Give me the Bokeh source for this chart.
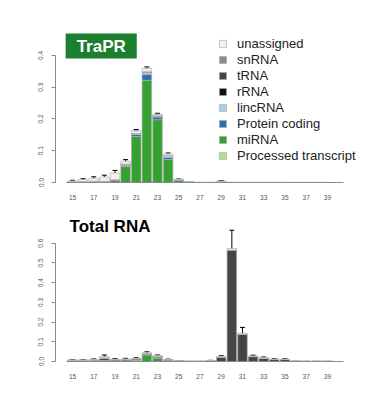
from bokeh.plotting import figure
from bokeh.layouts import column
from bokeh.models import (Range1d, FixedTicker, Legend, LegendItem, Label, Whisker,
                          ColumnDataSource, NumeralTickFormatter, TeeHead)
from bokeh.embed import file_html
from bokeh.resources import INLINE

lengths = list(range(15, 40))
x_ticks = list(range(15, 40, 2))
series = ["Processed transcript", "miRNA", "Protein coding", "lincRNA",
          "rRNA", "tRNA", "snRNA", "unassigned"]
colors = ["#b5df8e", "#36a030", "#2b6fae", "#a9cfe6",
          "#111111", "#454545", "#8a8a8a", "#f2f2f2"]

# ---- TraPR panel (lengths 15..39) ----
trapr_processed = [0]*25
trapr_mirna     = [0, 0, 0, 0, 0.002, 0.050, 0.145, 0.322, 0.198, 0.073, 0.008, 0.001, 0, 0, 0, 0, 0, 0, 0, 0, 0, 0, 0, 0, 0]
trapr_protein   = [0, 0, 0, 0, 0, 0.003, 0.006, 0.018, 0.008, 0.006, 0, 0, 0, 0, 0, 0, 0, 0, 0, 0, 0, 0, 0, 0, 0]
trapr_linc      = [0, 0, 0, 0, 0, 0.002, 0.003, 0.006, 0.003, 0.006, 0, 0, 0, 0, 0, 0, 0, 0, 0, 0, 0, 0, 0, 0, 0]
trapr_rrna      = [0.001, 0.001, 0.002, 0.002, 0.004, 0.002, 0.001, 0.002, 0.001, 0, 0, 0, 0, 0, 0, 0, 0, 0, 0, 0, 0, 0, 0, 0, 0]
trapr_trna      = [0.001, 0.002, 0.002, 0.002, 0.003, 0.001, 0, 0.001, 0, 0, 0.001, 0, 0, 0, 0.001, 0, 0, 0, 0, 0, 0, 0, 0, 0, 0]
trapr_snrna     = [0, 0, 0, 0, 0, 0, 0, 0, 0, 0, 0, 0, 0, 0, 0.001, 0, 0, 0, 0, 0, 0, 0, 0, 0, 0]
trapr_unassigned = [0.003, 0.006, 0.009, 0.013, 0.021, 0.009, 0.008, 0.011, 0.005, 0.005, 0.001, 0.001, 0.001, 0.001, 0.003,
                    0.0008, 0.0008, 0.0008, 0.0008, 0.0008, 0.0008, 0.0005, 0.0005, 0.0005, 0.0005]
trapr_err_total = [0.002, 0.003, 0.005, 0.006, 0.008, 0.005, 0.004, 0.004, 0.003, 0.003, 0.001, 0, 0, 0, 0.001,
                   0, 0, 0, 0, 0, 0, 0, 0, 0, 0]
trapr_err_mirna = [0, 0, 0, 0, 0, 0.006, 0.017, 0.035, 0.015, 0.006, 0, 0, 0, 0, 0, 0, 0, 0, 0, 0, 0, 0, 0, 0, 0]

# ---- Total RNA panel ----
total_processed = [0]*25
total_mirna     = [0, 0, 0, 0, 0, 0.001, 0.006, 0.034, 0.018, 0.003, 0.001, 0, 0, 0, 0, 0, 0, 0, 0, 0, 0, 0, 0, 0, 0]
total_protein   = [0, 0, 0, 0, 0, 0, 0, 0.001, 0.001, 0, 0, 0, 0, 0, 0, 0, 0, 0, 0, 0, 0, 0, 0, 0, 0]
total_linc      = [0]*25
total_rrna      = [0.002, 0.002, 0.002, 0.005, 0.003, 0.003, 0.002, 0.002, 0.003, 0.001, 0, 0, 0, 0, 0, 0, 0, 0, 0, 0, 0, 0, 0, 0, 0]
total_trna      = [0.004, 0.004, 0.005, 0.010, 0.006, 0.006, 0.006, 0.004, 0.005, 0.005, 0.002, 0.001, 0.001, 0.004, 0.022,
                   0.565, 0.138, 0.025, 0.017, 0.010, 0.010, 0.002, 0.001, 0.001, 0.001]
total_snrna     = [0, 0, 0, 0.004, 0, 0, 0, 0, 0, 0, 0, 0, 0, 0, 0, 0, 0, 0, 0, 0, 0, 0, 0, 0, 0]
total_unassigned = [0.002, 0.002, 0.003, 0.006, 0.003, 0.003, 0.002, 0.003, 0.002, 0.001, 0, 0.001, 0.001, 0.001, 0.003,
                    0.008, 0.005, 0.003, 0.003, 0.002, 0.002, 0.001, 0.001, 0.001, 0.001]
total_err = [0.002, 0.002, 0.003, 0.008, 0.003, 0.003, 0.003, 0.005, 0.004, 0.002, 0.001, 0, 0, 0.001, 0.004,
             0.093, 0.03, 0.004, 0.003, 0.002, 0.002, 0, 0, 0, 0]

FONT = "Liberation Sans"


def make_panel(values, height, border_top, border_bottom, y_end, y_ticks_list):
    data = {"x": lengths}
    for name, vals in zip(series, values):
        data[name] = vals
    src = ColumnDataSource(data)
    p = figure(width=384, height=height, output_backend="svg", toolbar_location=None,
               x_range=Range1d(13.4, 43.05), y_range=Range1d(0, y_end),
               min_border_left=55, min_border_right=14,
               min_border_top=border_top, min_border_bottom=border_bottom)
    p.outline_line_color = None
    p.xgrid.visible = False
    p.ygrid.visible = False
    p.background_fill_color = "white"
    rs = p.vbar_stack(series, x="x", width=0.9, color=colors, source=src,
                      line_color="#b0b0b0", line_width=0.7)
    # axes
    p.xaxis.ticker = FixedTicker(ticks=x_ticks)
    p.xaxis.bounds = (14.45, 40.5)
    p.xaxis.axis_line_color = "#8a8a8a"
    p.xaxis.major_tick_line_color = None
    p.xaxis.minor_tick_line_color = None
    p.xaxis.major_label_standoff = 6
    p.xaxis.major_label_text_font_size = "6.5px"
    p.xaxis.major_label_text_color = "#555555"
    p.xaxis.major_label_text_font = FONT
    p.yaxis.ticker = FixedTicker(ticks=y_ticks_list)
    p.yaxis.bounds = (y_ticks_list[0], y_ticks_list[-1])
    p.yaxis.formatter = NumeralTickFormatter(format="0.0")
    p.yaxis.axis_line_color = "#8a8a8a"
    p.yaxis.major_tick_line_color = "#8a8a8a"
    p.yaxis.major_tick_out = 4
    p.yaxis.major_tick_in = 0
    p.yaxis.minor_tick_line_color = None
    p.yaxis.major_label_orientation = "vertical"
    p.yaxis.major_label_standoff = 8
    p.yaxis.major_label_text_font_size = "6.5px"
    p.yaxis.major_label_text_color = "#555555"
    p.yaxis.major_label_text_font = FONT
    return p, rs


def add_whisker(p, centers, errs):
    xs, lo, hi = [], [], []
    for x, c, e in zip(lengths, centers, errs):
        if e > 0:
            xs.append(x)
            lo.append(c - e)
            hi.append(c + e)
    s = ColumnDataSource(dict(x=xs, lower=lo, upper=hi))
    w = Whisker(source=s, base="x", lower="lower", upper="upper",
                line_color="black", line_width=1,
                upper_head=TeeHead(size=5, line_color="black", line_width=1),
                lower_head=TeeHead(size=5, line_color="black", line_width=1))
    p.add_layout(w)


# ---- top figure ----
trapr_values = [trapr_processed, trapr_mirna, trapr_protein, trapr_linc,
                trapr_rrna, trapr_trna, trapr_snrna, trapr_unassigned]
p1, rs1 = make_panel(trapr_values, 205, 20, 23, 0.5102, [0, 0.1, 0.2, 0.3, 0.4])
trapr_total = [sum(v) for v in zip(*trapr_values)]
trapr_mirna_top = [a + b for a, b in zip(trapr_processed, trapr_mirna)]
add_whisker(p1, trapr_total, trapr_err_total)
add_whisker(p1, trapr_mirna_top, trapr_err_mirna)

items = [LegendItem(label=name, renderers=[r]) for name, r in zip(series, rs1)][::-1]
legend = Legend(items=items, location=(163, 19), glyph_width=9, glyph_height=9,
                label_standoff=10, spacing=1, label_height=13, padding=0, margin=0,
                border_line_color=None, background_fill_alpha=0,
                label_text_font_size="13px", label_text_font=FONT,
                label_text_color="#222222")
p1.add_layout(legend)

p1.add_layout(Label(x=45.7, y=136.4, x_units="screen", y_units="screen", text="TraPR",
                    text_align="center", text_baseline="middle",
                    text_font=FONT, text_font_style="bold", text_font_size="17px",
                    text_color="white", background_fill_color="#1b7f2f",
                    padding=(11, 3)))

# ---- bottom figure ----
total_values = [total_processed, total_mirna, total_protein, total_linc,
                total_rrna, total_trna, total_snrna, total_unassigned]
p2, rs2 = make_panel(total_values, 197, 10, 41, 0.7405, [0, 0.1, 0.2, 0.3, 0.4, 0.5, 0.6])
total_total = [sum(v) for v in zip(*total_values)]
add_whisker(p2, total_total, total_err)
p2.add_layout(Label(x=54.5, y=134.7, x_units="screen", y_units="screen", text="Total RNA",
                    text_align="center", text_baseline="middle",
                    text_font=FONT, text_font_style="bold", text_font_size="17px",
                    text_color="black"))

layout = column(p1, p2, spacing=0)
open("out.html", "w").write(file_html(layout, INLINE))
